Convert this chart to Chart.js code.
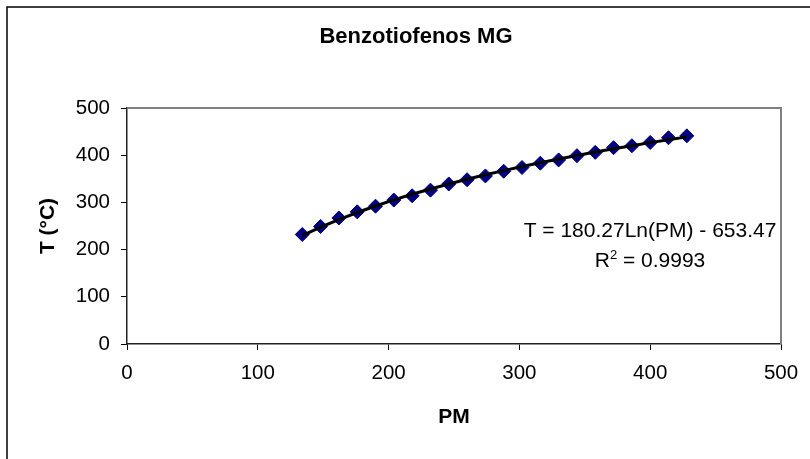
<!DOCTYPE html>
<html>
<head>
<meta charset="utf-8">
<title>Benzotiofenos MG</title>
<script src="https://cdn.jsdelivr.net/npm/chart.js@4.4.1/dist/chart.umd.min.js"></script>
<style>
  body { margin: 0; background: #fff; }
  canvas { display: block; }
</style>
</head>
<body>
<canvas id="benzoChart" width="810" height="459"></canvas>
<script>
// Peso molecular de la serie homóloga y temperatura de ebullición leída
const pesoMolecular = [134, 148, 162, 176, 190, 204, 218, 232, 246, 260, 274,
  288, 302, 316, 330, 344, 358, 372, 386, 400, 414, 428];
const temperatura = [232, 249, 267, 280, 292, 305, 314, 326, 339, 348, 356,
  366, 374, 383, 390, 399, 406, 416, 420, 427, 437, 441];

const xTicks = [0, 100, 200, 300, 400, 500];
const yTicks = [0, 100, 200, 300, 400, 500];

// Línea de tendencia logarítmica: T = a·Ln(PM) + b
const trendA = 180.27;
const trendB = -653.47;
const trendR2 = "0.9993";

const FONT = "'Liberation Sans', Arial, sans-serif";

const puntos = pesoMolecular.map((x, i) => ({ x: x, y: temperatura[i] }));
const tendencia = pesoMolecular.map((x) => ({ x: x, y: trendA * Math.log(x) + trendB }));

/**
 * Marco exterior, borde del área de trazado, título y ecuación de la tendencia
 */
const decoracion = {
  id: "decoracion",
  beforeDraw(chart) {
    const ctx = chart.ctx;
    ctx.save();
    ctx.fillStyle = "#fff";
    ctx.fillRect(0, 0, chart.width, chart.height);
    ctx.restore();
  },
  afterDraw(chart) {
    const { ctx, chartArea } = chart;
    ctx.save();

    // marco del gráfico
    ctx.strokeStyle = "#000";
    ctx.lineWidth = 1.5;
    ctx.beginPath();
    ctx.moveTo(7, chart.height);
    ctx.lineTo(7, 7);
    ctx.lineTo(chart.width, 7);
    ctx.stroke();

    // borde gris superior y derecho del área de trazado
    ctx.strokeStyle = "#808080";
    ctx.lineWidth = 2;
    ctx.beginPath();
    ctx.moveTo(chartArea.left, chartArea.top);
    ctx.lineTo(chartArea.right, chartArea.top);
    ctx.lineTo(chartArea.right, chartArea.bottom);
    ctx.stroke();

    // título
    ctx.fillStyle = "#000";
    ctx.textAlign = "center";
    ctx.textBaseline = "alphabetic";
    ctx.font = "bold 22px " + FONT;
    ctx.fillText("Benzotiofenos MG", 416, 43);

    // ecuación y R²
    const cx = chartArea.right - 131;
    ctx.font = "21px " + FONT;
    ctx.fillText("T = " + trendA + "Ln(PM) - " + Math.abs(trendB), cx, chartArea.top + 129);

    const partA = "R";
    const partB = " = " + trendR2;
    ctx.font = "21px " + FONT;
    const wA = ctx.measureText(partA).width;
    const wB = ctx.measureText(partB).width;
    ctx.font = "13px " + FONT;
    const wSup = ctx.measureText("2").width;
    let x0 = cx - (wA + wSup + wB) / 2;
    const base = chartArea.top + 159;
    ctx.textAlign = "left";
    ctx.font = "21px " + FONT;
    ctx.fillText(partA, x0, base);
    ctx.font = "13px " + FONT;
    ctx.fillText("2", x0 + wA, base - 8);
    ctx.font = "21px " + FONT;
    ctx.fillText(partB, x0 + wA + wSup, base);

    ctx.restore();
  },
};

function ejeComun(ticks) {
  return {
    type: "linear",
    min: 0,
    max: 500,
    afterBuildTicks: (scale) => {
      scale.ticks = ticks.map((v) => ({ value: v }));
    },
    grid: {
      display: true,
      drawOnChartArea: false,
      drawTicks: true,
      tickLength: 6,
      color: "#000",
      lineWidth: 1,
    },
    border: { display: true, color: "#222", width: 1.5 },
    ticks: {
      color: "#000",
      padding: 11,
      maxRotation: 0,
      font: { family: FONT, size: 20.5 },
    },
  };
}

const ejeX = ejeComun(xTicks);
ejeX.position = "bottom";
ejeX.title = {
  display: true,
  text: "PM",
  color: "#000",
  font: { family: FONT, size: 21, weight: "bold" },
  padding: { top: 0, bottom: 29 },
};
ejeX.afterFit = (scale) => { scale.height = 115; };

const ejeY = ejeComun(yTicks);
ejeY.position = "left";
ejeY.title = {
  display: true,
  text: "T (°C)",
  color: "#000",
  font: { family: FONT, size: 21, weight: "bold" },
  padding: { top: 36, bottom: 0 },
};
ejeY.afterFit = (scale) => { scale.width = 127; };

new Chart(document.getElementById("benzoChart").getContext("2d"), {
  type: "scatter",
  data: {
    datasets: [
      {
        label: "Tendencia",
        type: "line",
        data: tendencia,
        borderColor: "#000",
        borderWidth: 3,
        pointRadius: 0,
        fill: false,
        tension: 0,
        order: 0,
      },
      {
        label: "Benzotiofenos",
        data: puntos,
        pointStyle: "rectRot",
        pointRadius: 7,
        backgroundColor: "#000080",
        borderColor: "#000080",
        borderWidth: 1,
        order: 1,
      },
    ],
  },
  options: {
    responsive: false,
    animation: false,
    layout: { padding: { left: 0, right: 29, top: 108, bottom: 0 } },
    plugins: {
      legend: { display: false },
      tooltip: { enabled: false },
      title: { display: false },
    },
    scales: { x: ejeX, y: ejeY },
  },
  plugins: [decoracion],
});
</script>
</body>
</html>
